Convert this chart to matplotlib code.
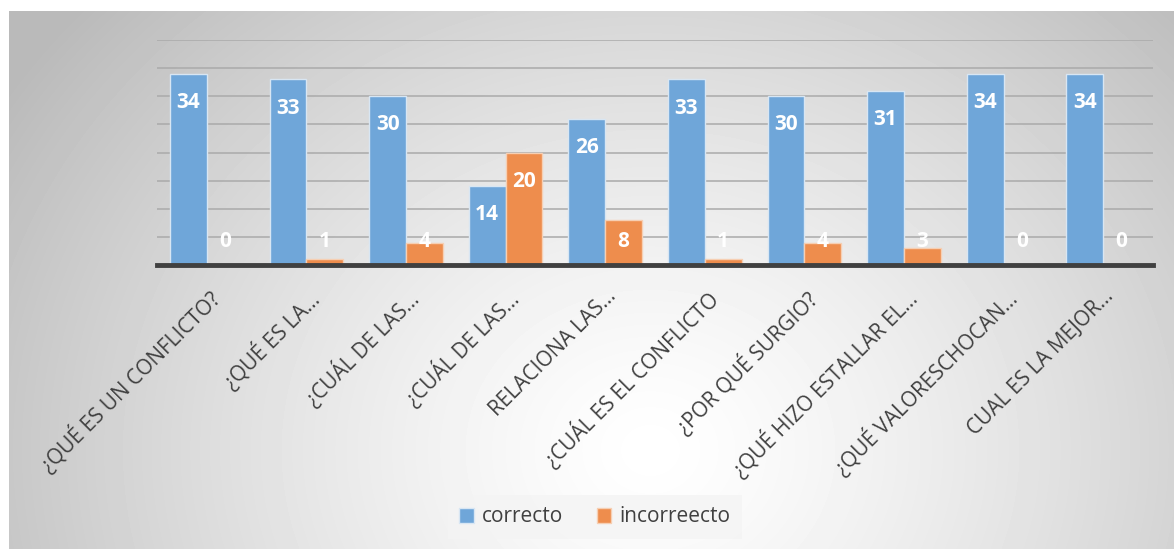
import numpy as np
import matplotlib.pyplot as plt
from matplotlib.patches import Patch

plt.rcParams['font.family'] = ['Open Sans', 'DejaVu Sans']

# datos
preguntas = ['¿QUÉ ES UN CONFLICTO?', '¿QUÉ ES LA…', '¿CUÁL DE LAS…', '¿CUÁL DE LAS…',
             'RELACIONA LAS…', '¿CUÁL ES EL CONFLICTO', '¿POR QUÉ SURGIO?',
             '¿QUÉ HIZO ESTALLAR EL…', '¿QUÉ VALORESCHOCAN…', 'CUAL ES LA MEJOR…']
correcto = [34, 33, 30, 14, 26, 33, 30, 31, 34, 34]
incorrecto = [0, 1, 4, 20, 8, 1, 4, 3, 0, 0]

azul = '#6fa6d9'
naranja = '#ee8d4d'

W, H = 1174, 549
fig = plt.figure(figsize=(W / 100, H / 100), dpi=100)

# fondo con degradado radial
bg = fig.add_axes([9 / W, 0, 1 - 9 / W, 1 - 11 / H])
yy, xx = np.mgrid[11:H, 9:W]
r = np.hypot(xx - 650, (yy - 450) * 1.15) / 760
val = 1 - 0.27 * np.clip(r, 0, 1) ** 1.3
bg.imshow(val, cmap='gray', vmin=0, vmax=1, aspect='auto', extent=[0, 1, 0, 1])
bg.axis('off')

ax = fig.add_axes([157 / W, 1 - 265 / H, (1153 - 157) / W, (265 - 40) / H])
ax.patch.set_alpha(0)
x = np.arange(len(preguntas))
w = 0.37
ax.bar(x - w / 2, correcto, w, color=azul, edgecolor='#d8e6f3', linewidth=1, zorder=3)
ax.bar(x + w / 2, incorrecto, w, color=naranja, edgecolor='#f6cfb3', linewidth=1, zorder=3)

ax.set_ylim(0, 40)
ax.set_xlim(-0.5, len(preguntas) - 0.5)
ax.set_yticks(np.arange(0, 45, 5))
ax.yaxis.grid(True, color='#aaaaaa', lw=1.1, zorder=0)
ax.tick_params(axis='y', left=False, labelleft=False)
ax.tick_params(axis='x', length=0, pad=15)
for s in ['top', 'right', 'left']:
    ax.spines[s].set_visible(False)
ax.spines['bottom'].set_color('#404040')
ax.spines['bottom'].set_linewidth(3.5)
ax.spines['bottom'].set_zorder(5)

ax.set_xticks(x)
ax.set_xticklabels(preguntas, rotation=45, ha='right', rotation_mode='anchor',
                   fontsize=15, color='#404040')

# etiquetas de datos
for xs, vals in [(x - w / 2, correcto), (x + w / 2, incorrecto)]:
    for xi, v in zip(xs, vals):
        ax.text(xi, max(v - 5.1, 4.1), str(v), ha='center', va='center',
                color='white', fontsize=15, fontweight='bold', zorder=6)

leg = fig.legend(handles=[Patch(facecolor=azul, edgecolor='#d8e6f3', label='correcto'),
                          Patch(facecolor=naranja, edgecolor='#f6cfb3', label='incorreecto')],
                 loc='center', bbox_to_anchor=(595 / W, 1 - 517 / H), ncol=2,
                 fontsize=15, frameon=True, fancybox=False, handlelength=0.7,
                 handleheight=0.7, columnspacing=1.6, handletextpad=0.4,
                 borderpad=0.55)
leg.get_frame().set_facecolor('#f4f4f4')
leg.get_frame().set_edgecolor('none')
for t in leg.get_texts():
    t.set_color('#404040')

fig.savefig('out.png', dpi=100)
